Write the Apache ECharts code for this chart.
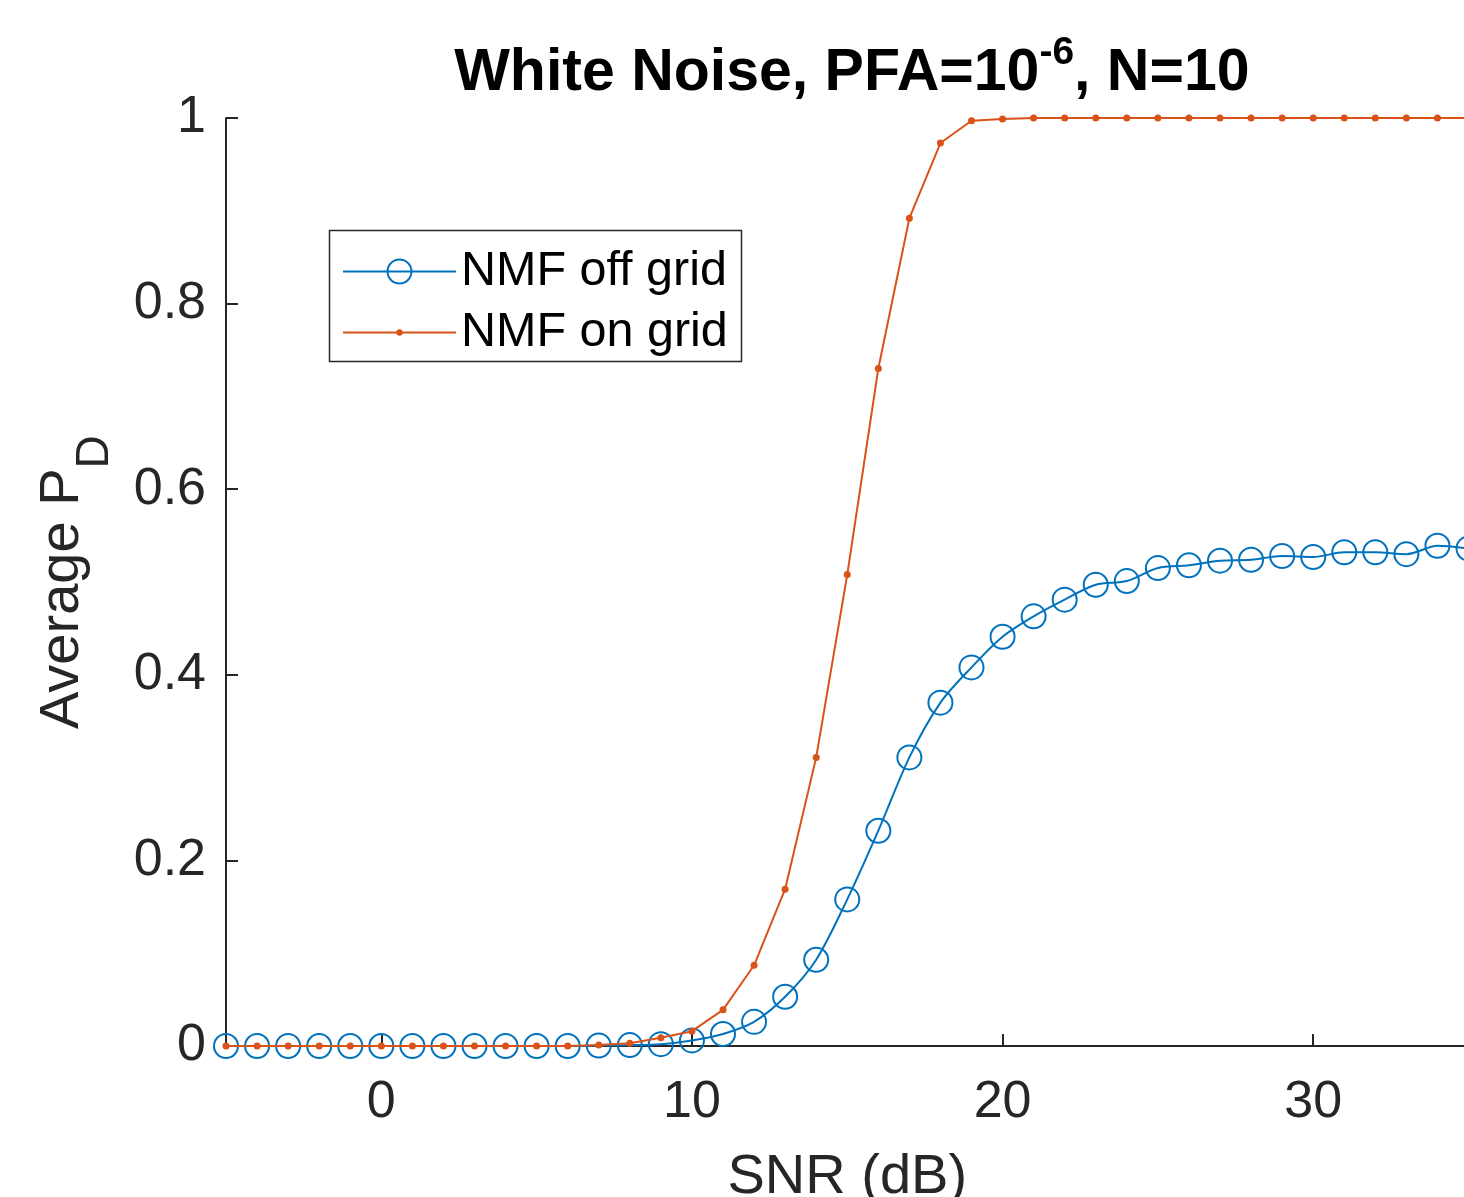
<!DOCTYPE html>
<html>
<head>
<meta charset="UTF-8">
<title>White Noise PD</title>
<script src="https://cdn.jsdelivr.net/npm/echarts@6/dist/echarts.min.js"></script>
<style>
  html, body { margin: 0; padding: 0; background: #fff; }
  #chart { width: 1464px; height: 1197px; }
</style>
</head>
<body>
<div id="chart"></div>
<script>
// SNR values (dB)
var snr = [-5,-4,-3,-2,-1,0,1,2,3,4,5,6,7,8,9,10,11,12,13,14,15,16,17,18,19,20,
           21,22,23,24,25,26,27,28,29,30,31,32,33,34,35];
// NMF off grid
var offGrid = [0,0,0,0,0,0,0,0,0,0,0,0,0.0005,0.001,0.002,0.006,0.013,0.026,0.053,0.093,
               0.158,0.232,0.311,0.370,0.408,0.441,0.463,0.481,0.497,0.501,0.515,0.518,0.523,
               0.524,0.528,0.527,0.532,0.532,0.530,0.539,0.536];
// NMF on grid
var onGrid = [0,0,0,0,0,0,0,0,0,0,0,0,0.001,0.003,0.009,0.016,0.039,0.087,0.169,0.311,
              0.508,0.730,0.892,0.973,0.997,0.999,1,1,1,1,1,1,1,1,1,1,1,1,1,1,1];
var xTicks = [0, 10, 20, 30];

function pairs(xs, ys) {
    var out = [];
    for (var i = 0; i < xs.length; i++) out.push([xs[i], ys[i]]);
    return out;
}

var axisColor = '#262626';
var blue = '#0072BD';
var orange = '#D95319';
var font = '"Liberation Sans", Arial, Helvetica, sans-serif';
var legendText = { fontFamily: font, fontSize: 48.5, lineHeight: 48, color: '#000' };

var myChart = echarts.init(document.getElementById('chart'));
var option = {
    animation: false,
    backgroundColor: '#fff',
    title: {
        // z token only sets the line height so the superscript can sit high
        text: '{a|White Noise, PFA=10}{s|-6}{a|, N=10}{z| }',
        left: 847,
        top: 29,
        textAlign: 'center',
        textStyle: {
            rich: {
                a: { fontFamily: font, fontWeight: 'bold', fontSize: 59, lineHeight: 59, color: '#000', verticalAlign: 'bottom' },
                s: { fontFamily: font, fontWeight: 'bold', fontSize: 39, lineHeight: 39, color: '#000', verticalAlign: 'top' },
                z: { fontSize: 1, lineHeight: 69 }
            }
        }
    },
    // two legends so each line keeps its own marker size
    legend: [
        {
            left: 342, top: 247, padding: 0,
            itemWidth: 113, itemHeight: 30,
            textStyle: legendText,
            data: ['NMF off grid']
        },
        {
            left: 342, top: 308, padding: 0,
            itemWidth: 113, itemHeight: 8,
            textStyle: legendText,
            data: ['NMF on grid']
        }
    ],
    graphic: [{
        type: 'rect',
        shape: { x: 329.5, y: 230.5, width: 412, height: 131 },
        style: { fill: 'rgba(255,255,255,0)', stroke: axisColor, lineWidth: 1.5 },
        silent: true,
        z: 10
    }],
    grid: { left: 226, top: 118, right: -4.5, bottom: 151, outerBoundsMode: 'none' },
    xAxis: {
        type: 'value',
        min: -5,
        max: 35,
        name: 'SNR (dB)',
        nameLocation: 'middle',
        nameGap: 104,
        nameTextStyle: { fontFamily: font, fontSize: 56, color: axisColor },
        axisLine: { show: true, onZero: false, lineStyle: { color: axisColor, width: 2 } },
        axisTick: { show: true, inside: true, length: 12, customValues: xTicks, lineStyle: { color: axisColor, width: 2 } },
        axisLabel: { customValues: xTicks, fontFamily: font, fontSize: 52, color: axisColor, margin: 31 },
        splitLine: { show: false }
    },
    yAxis: {
        type: 'value',
        min: 0,
        max: 1,
        interval: 0.2,
        name: '{a|Average P}{d|D}{z| }',
        nameLocation: 'middle',
        nameGap: 108,
        nameRotate: 90,
        nameTextStyle: {
            rich: {
                a: { fontFamily: font, fontSize: 56, lineHeight: 56, color: axisColor, verticalAlign: 'top' },
                d: { fontFamily: font, fontSize: 46, lineHeight: 46, color: axisColor, verticalAlign: 'bottom' },
                z: { fontSize: 1, lineHeight: 83 }
            }
        },
        axisLine: { show: true, onZero: false, lineStyle: { color: axisColor, width: 2 } },
        axisTick: { show: true, inside: true, length: 12, lineStyle: { color: axisColor, width: 2 } },
        axisLabel: { fontFamily: font, fontSize: 52, color: axisColor, margin: 20 },
        splitLine: { show: false }
    },
    series: [
        {
            name: 'NMF off grid',
            type: 'line',
            data: pairs(snr, offGrid),
            smooth: 0.3,
            symbol: 'circle',
            symbolSize: 24,
            showAllSymbol: true,
            lineStyle: { width: 2, color: blue },
            itemStyle: { color: 'rgba(255,255,255,0)', borderColor: blue, borderWidth: 2 },
            z: 3
        },
        {
            name: 'NMF on grid',
            type: 'line',
            data: pairs(snr, onGrid),
            symbol: 'circle',
            symbolSize: 7,
            showAllSymbol: true,
            lineStyle: { width: 2, color: orange },
            itemStyle: { color: orange },
            z: 4
        }
    ]
};
myChart.setOption(option);
</script>
</body>
</html>
